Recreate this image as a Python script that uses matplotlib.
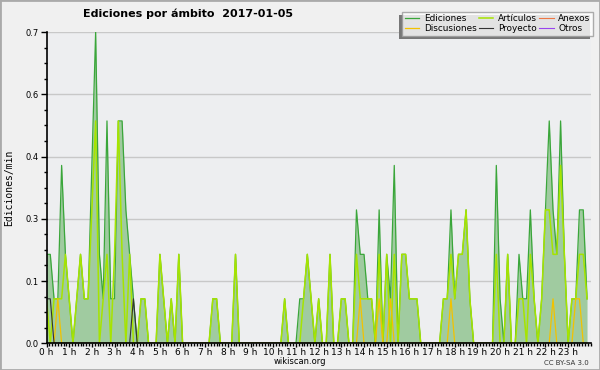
import numpy as np
import matplotlib
matplotlib.use('Agg')
import matplotlib.pyplot as plt
from matplotlib.ticker import FixedLocator, MultipleLocator
from matplotlib.transforms import IdentityTransform

# edits per 10-minute slot, one row per hour (0 h .. 23 h)
ediciones = [2, 2, 1, 1, 4, 2,  1, 0, 1, 2, 1, 1,  4, 7, 2, 1, 5, 1,  1, 5, 5, 3, 2, 1,
             0, 1, 1, 0, 0, 0,  2, 1, 0, 1, 0, 2,  0, 0, 0, 0, 0, 0,  0, 0, 1, 1, 0, 0,
             0, 0, 2, 0, 0, 0,  0, 0, 0, 0, 0, 0,  0, 0, 0, 1, 0, 0,  0, 1, 1, 2, 1, 0,
             1, 0, 0, 2, 0, 0,  1, 1, 0, 0, 3, 2,  2, 1, 1, 0, 3, 0,  2, 1, 4, 0, 2, 2,
             1, 1, 1, 0, 0, 0,  0, 0, 0, 1, 1, 3,  1, 2, 2, 3, 1, 0,  0, 0, 0, 0, 0, 4,
             1, 0, 2, 0, 0, 2,  1, 1, 3, 1, 0, 1,  3, 5, 3, 2, 5, 2,  0, 1, 1, 3, 3, 1]
articulos = [1, 0, 1, 1, 1, 2,  1, 0, 1, 2, 1, 1,  3, 5, 0, 1, 2, 0,  2, 5, 2, 0, 2, 0,
             0, 1, 1, 0, 0, 0,  2, 1, 0, 1, 0, 2,  0, 0, 0, 0, 0, 0,  0, 0, 1, 1, 0, 0,
             0, 0, 2, 0, 0, 0,  0, 0, 0, 0, 0, 0,  0, 0, 0, 1, 0, 0,  0, 0, 1, 2, 1, 0,
             1, 0, 0, 2, 0, 0,  1, 1, 0, 0, 2, 1,  1, 1, 1, 0, 2, 0,  2, 0, 2, 0, 2, 2,
             1, 1, 1, 0, 0, 0,  0, 0, 0, 1, 1, 2,  1, 2, 2, 3, 1, 0,  0, 0, 0, 0, 0, 2,
             0, 0, 2, 0, 0, 1,  1, 0, 2, 1, 0, 1,  3, 3, 2, 2, 4, 2,  0, 1, 1, 2, 2, 1]
discusiones = [0] * 144
for i in [3, 83, 88, 91, 107, 134, 140, 141]:
    discusiones[i] = 1
proyecto = [0] * 144
for i in [0, 1, 23]:
    proyecto[i] = 1
anexos = [0] * 144
otros = [0] * 144

hour_labels = ['%d h' % h for h in range(24)]
y_ticks = [0.0, 0.14, 0.28, 0.42, 0.56, 0.7]
y_labels = ['0.0', '0.1', '0.3', '0.4', '0.6', '0.7']

x = np.arange(144) / 6.0
rate = lambda s: np.array(s) / 10.0   # edits per minute

fig = plt.figure(figsize=(6, 3.7), dpi=100, facecolor='#f0f0f0')
ax = fig.add_axes([0.0775, 0.0722, 0.9072, 0.8413])
ax.set_facecolor('#edeef0')

for yt in y_ticks[1:]:
    ax.axhline(yt, color='#c8c8c8', lw=1, zorder=0)

ax.fill_between(x, rate(ediciones), color='#a0cba0', lw=0, zorder=1)
l_ot, = ax.plot(x, rate(otros), color='#9944ee', lw=0.8, zorder=1)
l_an, = ax.plot(x, rate(anexos), color='#ee7744', lw=0.8, zorder=1)
l_ed, = ax.plot(x, rate(ediciones), color='#3aa63a', lw=0.9, zorder=2)
l_ar, = ax.plot(x, rate(articulos), color='#a6e400', lw=1.1, zorder=3)
l_di, = ax.plot(x, rate(discusiones), color='#f2c200', lw=0.9, zorder=4)
l_pr, = ax.plot(x, rate(proyecto), color='#333333', lw=0.8, zorder=5)

ax.set_xlim(0, 24)
ax.set_ylim(0, 0.7)
ax.xaxis.set_major_locator(FixedLocator(range(24)))
ax.set_xticklabels(hour_labels)
ax.xaxis.set_minor_locator(MultipleLocator(1 / 8))
ax.yaxis.set_major_locator(FixedLocator(y_ticks))
ax.set_yticklabels(y_labels)
ax.yaxis.set_minor_locator(MultipleLocator(0.035))
ax.tick_params(axis='y', which='major', length=4.5, width=1, labelsize=6, pad=1)
ax.tick_params(axis='y', which='minor', length=2.2, width=1)
ax.tick_params(axis='x', which='major', length=3, width=1, labelsize=6.5, pad=0.5)
ax.tick_params(axis='x', which='minor', length=2.5, width=1)
for s in ['top', 'right']:
    ax.spines[s].set_visible(False)
for s in ['left', 'bottom']:
    ax.spines[s].set_linewidth(1.2)
    ax.spines[s].set_zorder(8)
ax.set_ylabel('Ediciones/min', fontsize=7, family='DejaVu Sans Mono', labelpad=8)

leg = ax.legend([l_ed, l_di, l_ar, l_pr, l_an, l_ot],
                ['Ediciones', 'Discusiones', 'Artículos', 'Proyecto', 'Anexos', 'Otros'],
                ncol=3, loc='upper right', bbox_to_anchor=(1.004, 1.065), fontsize=6.4,
                frameon=True, fancybox=False,
                handlelength=1.6, handletextpad=0.5, columnspacing=0.3,
                labelspacing=0.1, borderpad=0.3, borderaxespad=0)
leg.get_frame().set_edgecolor('#999999')
leg.get_frame().set_linewidth(1)
leg.set_zorder(10)

fig.text(0.313, 0.962, 'Ediciones por ámbito  2017-01-05', fontsize=8, fontweight='bold',
         ha='center', va='center')
fig.text(0.5, 0.024, 'wikiscan.org', fontsize=6, ha='center', va='center')
fig.text(0.982, 0.02, 'CC BY-SA 3.0', fontsize=5, ha='right', va='center', color='#333333')

fig.patches.append(plt.Rectangle((0, 0), 1, 1, transform=fig.transFigure, fill=False,
                                 edgecolor='#aaaaaa', lw=2))

# legend shadow offset to the lower left
fig.canvas.draw()
bb = leg.get_frame().get_window_extent()
ax.add_patch(plt.Rectangle((bb.x0 - 3, bb.y0 - 3), bb.width, bb.height,
                           transform=IdentityTransform(), facecolor='#777777',
                           edgecolor='none', clip_on=False, zorder=9))

fig.savefig('out.png', dpi=100, facecolor=fig.get_facecolor())
